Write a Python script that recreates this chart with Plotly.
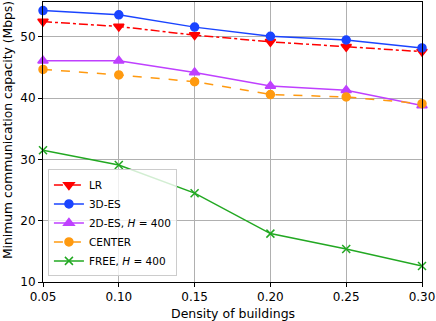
import plotly.graph_objects as go

density = [0.05, 0.10, 0.15, 0.20, 0.25, 0.30]
lr = [52.5, 51.7, 50.3, 49.2, 48.4, 47.6]
es3d = [54.3, 53.6, 51.6, 50.1, 49.5, 48.2]
es2d = [46.1, 46.1, 44.2, 42.0, 41.3, 38.8]
center = [44.7, 43.8, 42.7, 40.6, 40.2, 39.1]
free = [31.5, 29.1, 24.5, 17.9, 15.4, 12.6]

series = [
    ("LR", lr, "#ff0000", "dashdot", "triangle-down", 9),
    ("3D-ES", es3d, "#1a44ff", "solid", "circle", 8),
    ("2D-ES, <i>H</i> = 400", es2d, "#bf40ff", "solid", "triangle-up", 9),
    ("CENTER", center, "#ff9a10", "dash", "circle", 8),
    ("FREE, <i>H</i> = 400", free, "#22a822", "solid", "x-thin-open", 8),
]

fig = go.Figure()
for name, ys, color, dash, sym, size in series:
    fig.add_trace(go.Scatter(
        x=density, y=ys, name=name, mode="lines+markers",
        line=dict(color=color, width=1.5, dash=dash),
        marker=dict(symbol=sym, size=size, color=color,
                    line=dict(color=color, width=1.5)),
        cliponaxis=False,
    ))

W, H = 436, 321
L, R, T, B = 43, 14, 2, 39
fig.update_layout(
    width=W, height=H,
    margin=dict(l=L, r=R, t=T, b=B, autoexpand=False),
    paper_bgcolor="white", plot_bgcolor="white",
    font=dict(family="DejaVu Sans", size=12, color="black"),
    showlegend=True,
    legend=dict(x=0.013, y=0.02, xanchor="left", yanchor="bottom",
                bgcolor="rgba(255,255,255,0.8)", bordercolor="#cccccc",
                borderwidth=1, font=dict(family="DejaVu Sans", size=10.5),
                tracegroupgap=0, itemwidth=30),
    xaxis=dict(range=[0.05, 0.30], tickvals=density,
               ticktext=["0.05", "0.10", "0.15", "0.20", "0.25", "0.30"],
               showgrid=True, gridcolor="#b0b0b0", gridwidth=1,
               showline=True, linecolor="black", linewidth=1, mirror=True,
               ticks="outside", ticklen=4, tickcolor="black",
               zeroline=False, automargin=False),
    yaxis=dict(range=[10, 55.7], tickvals=[10, 20, 30, 40, 50],
               showgrid=True, gridcolor="#b0b0b0", gridwidth=1,
               showline=True, linecolor="black", linewidth=1, mirror=True,
               ticks="outside", ticklen=4, tickcolor="black",
               zeroline=False, automargin=False),
    annotations=[
        dict(text="Density of buildings", xref="paper", yref="paper",
             x=0.5, y=-(313 - (H - B)) / (H - T - B), xanchor="center",
             yanchor="middle", showarrow=False,
             font=dict(family="DejaVu Sans", size=12.5)),
        dict(text="Minimum communication capacity (Mbps)", xref="paper",
             yref="paper", textangle=-90,
             x=-(L - 8) / (W - L - R), xanchor="center",
             y=((H - B) - 130) / (H - T - B), yanchor="middle",
             showarrow=False, font=dict(family="DejaVu Sans", size=12.3)),
    ],
)

fig.write_html("out.html", config={"displayModeBar": False},
               post_script="document.body.style.margin='0';document.body.style.overflow='hidden';")
